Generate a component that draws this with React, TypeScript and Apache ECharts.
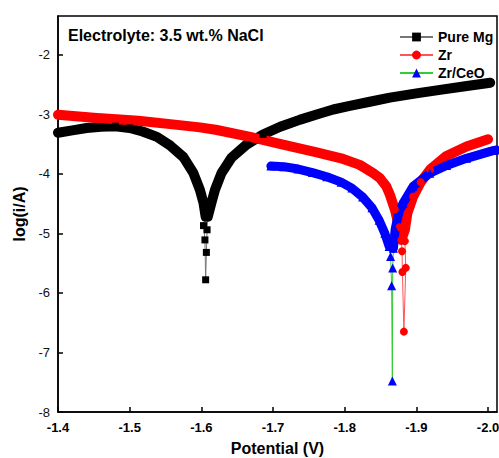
import React, { useEffect, useRef } from "react";
import * as echarts from "echarts";

const FONT = "'Liberation Sans', Arial, sans-serif";

const xTicks = [-1.4, -1.5, -1.6, -1.7, -1.8, -1.9, -2.0];
const yTicks = [-8, -7, -6, -5, -4, -3, -2];
const seriesNames = ["Pure Mg", "Zr", "Zr/CeO"];

// Pure Mg: [potential V, log(i/A)]
const mgLeft = [
  [-1.4, -3.31], [-1.42, -3.27], [-1.44, -3.23], [-1.46, -3.21], [-1.48, -3.2],
  [-1.5, -3.23], [-1.518, -3.29], [-1.538, -3.38], [-1.556, -3.52], [-1.575, -3.72],
  [-1.589, -3.99], [-1.598, -4.27], [-1.603, -4.49], [-1.606, -4.72],
];
const mgTail = [[-1.603, -4.87], [-1.605, -5.11], [-1.606, -5.78], [-1.607, -5.32], [-1.608, -4.94]];
const mgRight = [
  [-1.609, -4.72], [-1.614, -4.49], [-1.619, -4.27], [-1.628, -3.99], [-1.642, -3.73],
  [-1.663, -3.51], [-1.686, -3.34], [-1.71, -3.21], [-1.738, -3.09], [-1.762, -3.0],
  [-1.784, -2.92], [-1.807, -2.86], [-1.835, -2.79], [-1.863, -2.72], [-1.9, -2.65],
  [-1.933, -2.59], [-1.968, -2.53], [-2.003, -2.47],
];

// Zr
const zrLeft = [
  [-1.4, -3.01], [-1.45, -3.06], [-1.512, -3.11], [-1.56, -3.17], [-1.598, -3.22],
  [-1.62, -3.26], [-1.668, -3.38], [-1.714, -3.51], [-1.761, -3.64], [-1.795, -3.74],
  [-1.821, -3.85], [-1.84, -3.99], [-1.849, -4.07], [-1.858, -4.21], [-1.863, -4.35],
  [-1.87, -4.6], [-1.876, -4.9], [-1.879, -5.11],
];
const zrTail = [[-1.88, -5.3], [-1.8805, -5.65], [-1.8826, -6.65], [-1.8852, -5.58], [-1.884, -5.13]];
const zrRight = [
  [-1.884, -4.94], [-1.8875, -4.66], [-1.8956, -4.38], [-1.906, -4.14], [-1.919, -3.93],
  [-1.942, -3.7], [-1.97, -3.54], [-2.0, -3.42],
];

// Zr/CeO
const ceoLeft = [
  [-1.697, -3.87], [-1.715, -3.88], [-1.735, -3.92], [-1.755, -3.98], [-1.775, -4.05],
  [-1.795, -4.14], [-1.81, -4.24], [-1.825, -4.39], [-1.838, -4.57], [-1.848, -4.78],
  [-1.856, -5.0], [-1.862, -5.22],
];
const ceoTail = [[-1.864, -5.39], [-1.8655, -5.88], [-1.8665, -7.48], [-1.867, -5.58]];
const ceoRight = [
  [-1.868, -5.25], [-1.8703, -4.94], [-1.8745, -4.7], [-1.8816, -4.49], [-1.8956, -4.21],
  [-1.9188, -3.99], [-1.9421, -3.86], [-1.97, -3.74], [-2.007, -3.61], [-2.012, -3.6],
];

const curves = [
  { name: seriesNames[0], left: mgLeft, tail: mgTail, right: mgRight, symbol: "rect", size: 7, mark: "#000000", line: "#777777", band: 10 },
  { name: seriesNames[1], left: zrLeft, tail: zrTail, right: zrRight, symbol: "circle", size: 8, mark: "#ff0000", line: "#ff5555", band: 10 },
  { name: seriesNames[2], left: ceoLeft, tail: ceoTail, right: ceoRight, symbol: "triangle", size: 9, mark: "#0000ff", line: "#33cc33", band: 9 },
];

export default function App() {
  const ref = useRef<HTMLDivElement>(null);
  useEffect(() => {
    const chart = echarts.init(ref.current!, null, { renderer: "svg" });
    const series: any[] = [];
    curves.forEach((c) => {
      series.push({
        name: c.name,
        type: "line",
        data: [...c.left, ...c.tail, ...c.right],
        symbol: c.symbol,
        symbolSize: c.size,
        showAllSymbol: true,
        itemStyle: { color: c.mark },
        lineStyle: { color: c.line, width: 1 },
        emphasis: { disabled: true },
      });
      series.push({
        name: c.name + " band",
        type: "line",
        data: [...c.left, ...c.right],
        symbol: "none",
        silent: true,
        lineStyle: { color: c.mark, width: c.band, cap: "round", join: "round" },
        emphasis: { disabled: true },
      });
    });
    chart.setOption({
      animation: false,
      textStyle: { fontFamily: FONT },
      title: {
        text: "Electrolyte: 3.5 wt.% NaCl",
        left: 63,
        top: 22,
        textStyle: { fontFamily: FONT, fontSize: 16, fontWeight: "bold", color: "#000" },
      },
      legend: {
        data: seriesNames,
        orient: "vertical",
        left: 394,
        top: 25,
        itemWidth: 33,
        itemHeight: 11,
        itemGap: 4,
        textStyle: { fontFamily: FONT, fontSize: 14, fontWeight: "bold", color: "#000", lineHeight: 14 },
      },
      grid: {
        left: 58,
        top: 16,
        right: 2,
        bottom: 46,
        outerBoundsMode: "none",
        containLabel: false,
        show: true,
        borderColor: "#000",
        borderWidth: 1.5,
        backgroundColor: "transparent",
      },
      xAxis: {
        type: "value",
        min: -2.0125,
        max: -1.4,
        inverse: true,
        name: "Potential (V)",
        nameLocation: "middle",
        nameGap: 28,
        nameTextStyle: { fontFamily: FONT, fontSize: 16, fontWeight: "bold", color: "#000" },
        axisLine: { show: true, lineStyle: { color: "#000", width: 1.5 } },
        axisTick: { show: true, inside: true, length: 5, customValues: xTicks, lineStyle: { color: "#000", width: 1.5 } },
        axisLabel: {
          customValues: xTicks,
          formatter: (v: number) => v.toFixed(1),
          fontFamily: FONT,
          fontSize: 13,
          fontWeight: "bold",
          color: "#000",
          margin: 9,
        },
        splitLine: { show: false },
      },
      yAxis: {
        type: "value",
        min: -8,
        max: -1.35,
        name: "log(i/A)",
        nameLocation: "middle",
        nameRotate: 90,
        nameGap: 23,
        nameTextStyle: { fontFamily: FONT, fontSize: 16, fontWeight: "bold", color: "#000" },
        axisLine: { show: true, lineStyle: { color: "#000", width: 1.5 } },
        axisTick: { show: true, inside: true, length: 5, customValues: yTicks, lineStyle: { color: "#000", width: 1.5 } },
        axisLabel: {
          customValues: yTicks,
          formatter: (v: number) => String(Math.round(v)),
          fontFamily: FONT,
          fontSize: 13,
          color: "#111",
          margin: 8,
        },
        splitLine: { show: false },
      },
      series,
    });
    return () => chart.dispose();
  }, []);
  return (
    <div
      ref={ref}
      style={{ position: "fixed", left: 0, top: 0, width: 499, height: 458, background: "#fff" }}
    />
  );
}
